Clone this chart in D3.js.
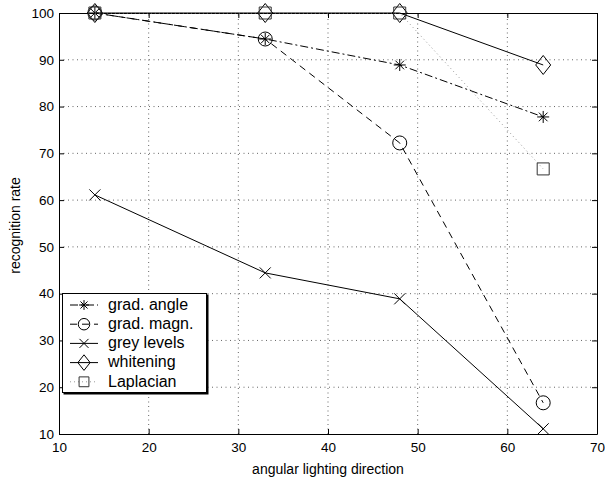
<!DOCTYPE html>
<html>
<head>
    <meta charset="utf-8" />
    <title></title>
    <style>
        body { margin: 0; background: #fff; }
        svg { display: block; font-family: "Liberation Sans", Arial, Helvetica, sans-serif; }
        .grid line { stroke: #666; stroke-dasharray: 1,3.5; }
    </style>
</head>
<body>
    <div id="chart"></div>
    <script src="https://cdn.jsdelivr.net/npm/d3@7"></script>
    <script>
        // values
        var angles = [14, 33, 48, 64];
        var gradAngle = [100, 94.44, 88.89, 77.78];
        var gradMagn = [100, 94.44, 72.22, 16.67];
        var greyLevels = [61.11, 44.44, 38.89, 11.11];
        var whitening = [100, 100, 100, 88.89];
        var laplacian = [100, 100, 100, 66.67];
        var seriesNames = ["grad. angle", "grad. magn.", "grey levels", "whitening", "Laplacian"];
        var xTicks = [10, 20, 30, 40, 50, 60, 70];
        var yTicks = [10, 20, 30, 40, 50, 60, 70, 80, 90, 100];

        var width = 605, height = 480;
        var margin = { top: 13, right: 8, bottom: 46, left: 59 };

        var x = d3.scaleLinear().domain([10, 70]).range([margin.left, width - margin.right]);
        var y = d3.scaleLinear().domain([10, 100]).range([height - margin.bottom, margin.top]);

        var series = [
            { name: seriesNames[0], values: gradAngle, marker: "asterisk", dash: "8,3,2,3", color: "#000" },
            { name: seriesNames[1], values: gradMagn, marker: "circle", dash: "7,5", color: "#000" },
            { name: seriesNames[2], values: greyLevels, marker: "cross", dash: null, color: "#000" },
            { name: seriesNames[3], values: whitening, marker: "diamond", dash: null, color: "#000" },
            { name: seriesNames[4], values: laplacian, marker: "square", dash: "1,3", color: "#999", markerColor: "#333" }
        ];

        var svg = d3.select("#chart").append("svg")
            .attr("width", width)
            .attr("height", height);

        // grid
        var grid = svg.append("g").attr("class", "grid");
        grid.selectAll("line.gx")
            .data(xTicks.slice(1, -1))
            .join("line")
            .attr("class", "gx")
            .attr("x1", d => x(d)).attr("x2", d => x(d))
            .attr("y1", y(10)).attr("y2", y(100));
        grid.selectAll("line.gy")
            .data(yTicks.slice(1, -1))
            .join("line")
            .attr("class", "gy")
            .attr("x1", x(10)).attr("x2", x(70))
            .attr("y1", d => y(d)).attr("y2", d => y(d));

        // axes, ticks inward on all sides
        function styleAxis(g) {
            g.attr("font-family", null).attr("font-size", 13.5);
            g.select(".domain").attr("stroke", "#000");
            g.selectAll(".tick line").attr("stroke", "#000");
            g.selectAll(".tick text").attr("fill", "#000");
        }
        svg.append("g")
            .attr("transform", `translate(0,${y(10)})`)
            .call(d3.axisBottom(x).tickValues(xTicks).tickSizeInner(-5).tickSizeOuter(0).tickPadding(8))
            .call(styleAxis);
        svg.append("g")
            .attr("transform", `translate(${x(10)},0)`)
            .call(d3.axisLeft(y).tickValues(yTicks).tickSizeInner(-5).tickSizeOuter(0).tickPadding(5))
            .call(styleAxis);
        svg.append("g")
            .attr("transform", `translate(0,${y(100)})`)
            .call(d3.axisTop(x).tickValues(xTicks).tickSizeInner(-5).tickSizeOuter(0).tickFormat(""))
            .call(styleAxis);
        svg.append("g")
            .attr("transform", `translate(${x(70)},0)`)
            .call(d3.axisRight(y).tickValues(yTicks).tickSizeInner(-5).tickSizeOuter(0).tickFormat(""))
            .call(styleAxis);

        // axis titles
        svg.append("text")
            .attr("x", (x(10) + x(70)) / 2)
            .attr("y", 474)
            .attr("text-anchor", "middle")
            .attr("font-size", 14)
            .text("angular lighting direction");
        svg.append("text")
            .attr("transform", `translate(20,${(y(10) + y(100)) / 2 + 2}) rotate(-90)`)
            .attr("text-anchor", "middle")
            .attr("font-size", 14)
            .text("recognition rate");

        // marker shapes
        function markerPath(type, cx, cy, k) {
            k = k || 1;
            var p = d3.path();
            if (type === "asterisk") {
                var r = 6 * k, q = r * 0.72;
                p.moveTo(cx - r, cy); p.lineTo(cx + r, cy);
                p.moveTo(cx, cy - r); p.lineTo(cx, cy + r);
                p.moveTo(cx - q, cy - q); p.lineTo(cx + q, cy + q);
                p.moveTo(cx - q, cy + q); p.lineTo(cx + q, cy - q);
            } else if (type === "circle") {
                p.moveTo(cx + 7 * k, cy);
                p.arc(cx, cy, 7 * k, 0, 2 * Math.PI);
            } else if (type === "cross") {
                var s = 5.5 * k;
                p.moveTo(cx - s, cy - s); p.lineTo(cx + s, cy + s);
                p.moveTo(cx - s, cy + s); p.lineTo(cx + s, cy - s);
            } else if (type === "diamond") {
                p.moveTo(cx, cy - 9.5 * k); p.lineTo(cx + 7.5 * k, cy);
                p.lineTo(cx, cy + 9.5 * k); p.lineTo(cx - 7.5 * k, cy);
                p.closePath();
            } else if (type === "square") {
                p.rect(cx - 6 * k, cy - 6 * k, 12 * k, 12 * k);
            }
            return p.toString();
        }

        var line = d3.line()
            .x((d, i) => x(angles[i]))
            .y(d => y(d));

        var plot = svg.append("g");
        series.forEach(function (s) {
            plot.append("path")
                .attr("d", line(s.values))
                .attr("fill", "none")
                .attr("stroke", s.color)
                .attr("stroke-width", 1)
                .attr("stroke-dasharray", s.dash);
            plot.append("g")
                .selectAll("path")
                .data(s.values)
                .join("path")
                .attr("d", (d, i) => markerPath(s.marker, x(angles[i]), y(d)))
                .attr("fill", "none")
                .attr("stroke", s.markerColor || "#000")
                .attr("stroke-width", 1);
        });

        // legend
        var legend = svg.append("g").attr("transform", "translate(62,293)");
        legend.append("rect")
            .attr("x", 1.5).attr("y", 1.5)
            .attr("width", 145).attr("height", 100)
            .attr("fill", "#000");
        legend.append("rect")
            .attr("x", 0.5).attr("y", 0.5)
            .attr("width", 144).attr("height", 99)
            .attr("fill", "#fff")
            .attr("stroke", "#000");
        var rows = legend.selectAll("g.row")
            .data(series)
            .join("g")
            .attr("transform", (d, i) => `translate(0,${12 + i * 19.2})`);
        rows.append("line")
            .attr("x1", 8).attr("x2", 36)
            .attr("stroke", d => d.color)
            .attr("stroke-dasharray", d => d.dash);
        rows.append("path")
            .attr("d", d => markerPath(d.marker, 22, 0, 0.82))
            .attr("fill", "none")
            .attr("stroke", d => d.markerColor || "#000");
        rows.append("text")
            .attr("x", 46)
            .attr("dy", "0.3em")
            .attr("font-size", 16)
            .text(d => d.name);
    </script>
</body>
</html>
